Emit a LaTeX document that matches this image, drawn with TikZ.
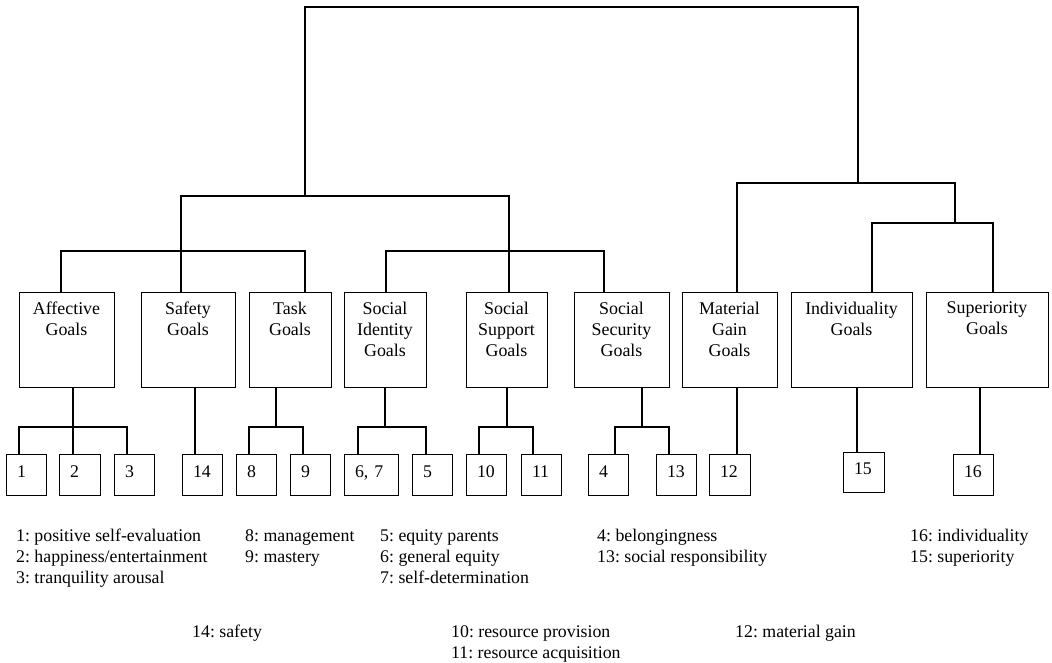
\documentclass[tikz,border=0pt]{standalone}
\usepackage{fontspec}
\setmainfont{Liberation Serif}
\frenchspacing
\newcommand\btfont{\fontsize{17.9}{21}\selectfont\frenchspacing}
\newcommand\lgfont{\fontsize{17.8}{21}\selectfont\frenchspacing}
\tikzset{
  conn/.style={line width=1.8pt, line join=miter},
  bigbox/.style={draw, line width=1pt, minimum height=95pt, inner sep=0pt, minimum width=#1},
  boxtext/.style={anchor=north, align=center, inner sep=0pt, yshift=-10.2pt, font=\btfont},
  smallbox/.style={draw, line width=1pt, minimum height=41pt, inner ysep=0pt, inner xsep=11pt,
    text width=#1, align=left, text height=12pt, text depth=7pt, font=\lgfont},
  legend/.style={anchor=base west, inner sep=0pt, font=\lgfont}
}
\begin{document}
\begin{tikzpicture}[x=1pt, y=-1pt]
\useasboundingbox (0,0) rectangle (1052,663);

% big boxes
\node[bigbox=95pt, label={[boxtext]north:{Affective\\Goals}}] (aff) at (66.5,339.5) {};
\node[bigbox=94pt, label={[boxtext]north:{Safety\\Goals}}] (saf) at (188,339.5) {};
\node[bigbox=82pt, label={[boxtext]north:{Task\\Goals}}] (task) at (290,339.5) {};
\node[bigbox=82pt, label={[boxtext]north:{Social\\Identity\\Goals}}] (sid) at (385,339.5) {};
\node[bigbox=81pt, label={[boxtext]north:{Social\\Support\\Goals}}] (ssup) at (506.5,339.5) {};
\node[bigbox=95pt, label={[boxtext]north:{Social\\Security\\Goals}}] (ssec) at (621.5,339.5) {};
\node[bigbox=95pt, label={[boxtext]north:{Material\\Gain\\Goals}}] (mat) at (729.5,339.5) {};
\node[bigbox=121pt, label={[boxtext]north:{Individuality\\Goals}}] (ind) at (851.5,339.5) {};
\node[bigbox=122pt, label={[boxtext]north:{Superiority\\Goals}}] (sup) at (987,339.5) {};

% small boxes
\node[smallbox=18pt] (b1) at (26,474.5) {1};
\node[smallbox=19pt] (b2) at (79.5,474.5) {2};
\node[smallbox=18pt] (b3) at (134,474.5) {3};
\node[smallbox=18pt] (b14) at (202,474.5) {14};
\node[smallbox=18pt] (b8) at (256,474.5) {8};
\node[smallbox=18pt] (b9) at (310,474.5) {9};
\node[smallbox=32pt] (b67) at (371,474.5) {6, 7};
\node[smallbox=18pt] (b5) at (432,474.5) {5};
\node[smallbox=18pt] (b10) at (486,474.5) {10};
\node[smallbox=18pt] (b11) at (541,474.5) {11};
\node[smallbox=18pt] (b4) at (608,474.5) {4};
\node[smallbox=18pt] (b13) at (676,474.5) {13};
\node[smallbox=19pt] (b12) at (729.5,474.5) {12};
\node[smallbox=19pt, minimum height=40pt] (b15) at (863.5,472) {15};
\node[smallbox=18pt] (b16) at (973,474.5) {16};

% tree junctions (upper)
\coordinate (r1) at (305,7);
\coordinate (r2) at (858,7);
\coordinate (jL) at (305,196);
\coordinate (jR) at (858,183);
\coordinate (L1) at (181,196);
\coordinate (L2) at (509,196);
\coordinate (A1) at (61,251);
\coordinate (A2) at (305,251);
\coordinate (B1) at (386,251);
\coordinate (B2) at (604,251);
\coordinate (R1) at (737,183);
\coordinate (R2) at (955,183);
\coordinate (R3) at (955,223);
\coordinate (S1) at (872,223);
\coordinate (S2) at (993,223);

\draw[conn] (jL) -- (r1) -- (r2) -- (jR);
\draw[conn] (saf.north -| L1) -- (L1) -- (L2) -- (ssup.north -| L2);
\draw[conn] (aff.north -| A1) -- (A1) -- (A2) -- (task.north -| A2);
\draw[conn] (sid.north -| B1) -- (B1) -- (B2) -- (ssec.north -| B2);
\draw[conn] (mat.north -| R1) -- (R1) -- (R2) -- (R3);
\draw[conn] (ind.north -| S1) -- (S1) -- (S2) -- (sup.north -| S2);

% lower junctions
\coordinate (a0) at (73,427);
\coordinate (a1) at (19,427);
\coordinate (a3) at (127,427);
\draw[conn] (aff.south -| a0) -- (a0) -- (b2.north -| a0);
\draw[conn] (b1.north -| a1) -- (a1) -- (a3) -- (b3.north -| a3);

\coordinate (f0) at (195,427);
\draw[conn] (saf.south -| f0) -- (b14.north -| f0);

\coordinate (t0) at (276,427);
\coordinate (t1) at (249,427);
\coordinate (t2) at (303,427);
\draw[conn] (task.south -| t0) -- (t0);
\draw[conn] (b8.north -| t1) -- (t1) -- (t2) -- (b9.north -| t2);

\coordinate (s0) at (385,427);
\coordinate (s1) at (358,427);
\coordinate (s2) at (426,427);
\draw[conn] (sid.south -| s0) -- (s0);
\draw[conn] (b67.north -| s1) -- (s1) -- (s2) -- (b5.north -| s2);

\coordinate (p0) at (507,427);
\coordinate (p1) at (479,427);
\coordinate (p2) at (533,427);
\draw[conn] (ssup.south -| p0) -- (p0);
\draw[conn] (b10.north -| p1) -- (p1) -- (p2) -- (b11.north -| p2);

\coordinate (q0) at (642,427);
\coordinate (q1) at (615,427);
\coordinate (q2) at (669,427);
\draw[conn] (ssec.south -| q0) -- (q0);
\draw[conn] (b4.north -| q1) -- (q1) -- (q2) -- (b13.north -| q2);

\coordinate (m0) at (737,427);
\draw[conn] (mat.south -| m0) -- (b12.north -| m0);
\coordinate (i0) at (857,427);
\draw[conn] (ind.south -| i0) -- (b15.north -| i0);
\coordinate (u0) at (980,427);
\draw[conn] (sup.south -| u0) -- (b16.north -| u0);

% legend
\node[legend] (l1) at (16,541.5) {1: positive self-evaluation};
\node[legend] (l2) at (16,562.5) {2: happiness/entertainment};
\node[legend] (l3) at (16,583.5) {3: tranquility arousal};
\node[legend] (l8) at (245,541.5) {8: management};
\node[legend] (l9) at (245,562.5) {9: mastery};
\node[legend] (l5) at (380,541.5) {5: equity parents};
\node[legend] (l6) at (380,562.5) {6: general equity};
\node[legend] (l7) at (380,583.5) {7: self-determination};
\node[legend] (l4) at (597,541.5) {4: belongingness};
\node[legend] (l13) at (597,562.5) {13: social responsibility};
\node[legend] (l16) at (910,541.5) {16: individuality};
\node[legend] (l15) at (910,562.5) {15: superiority};
\node[legend] (l14) at (192,637) {14: safety};
\node[legend] (l10) at (451,637) {10: resource provision};
\node[legend] (l11) at (451,658) {11: resource acquisition};
\node[legend] (l12) at (735,637) {12: material gain};
\end{tikzpicture}
\end{document}
